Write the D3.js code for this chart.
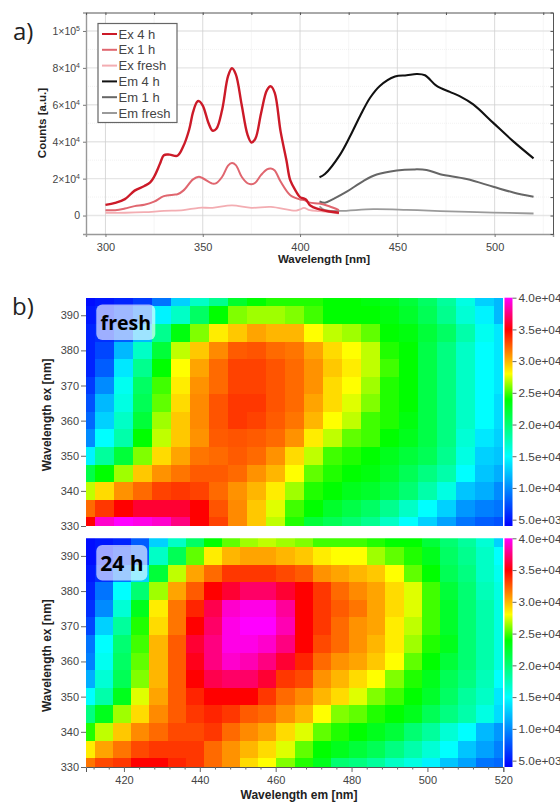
<!DOCTYPE html>
<html>
<head>
<meta charset="utf-8">
<script src="https://cdn.jsdelivr.net/npm/d3@7"></script>
<style>
  body { margin: 0; background: #fff; }
  svg { display: block; }
  text { font-family: "Liberation Sans", Arial, sans-serif; fill: #444; }
  .title { font-weight: bold; fill: #222; font-size: 11.5px; }
  .panel { font-family: "Open Sans", sans-serif; font-size: 24px; fill: #222; }
  .tag { font-family: "Open Sans", sans-serif; font-weight: bold; fill: #000; }
</style>
</head>
<body>
<svg id="chart" width="560" height="802"></svg>
<script>
// --- panel a, thousands of counts
const ex4hWl = [300,305,310,315,320,323,325,328,330,333,337,340,343,345,347,348,350,353,355,357,360,363,365,367,370,373,375,377,380,383,385,387,390,393,395,398,400,403,405,407,410,415,420];
const ex4h = [5.8,6.9,8.9,13.5,16,18,21,28,32.7,33,32.4,37.5,46.5,56,61.5,62,59.6,50,46,47,57.5,75.5,79.8,76.5,60,43.8,39.6,41.5,55.6,68,70,66.5,45.6,30,19,13,10,8.7,5.6,4.4,3.3,2.2,1.5];
const ex1hWl = [300,305,310,315,320,325,330,335,337,340,345,348,350,355,357,360,363,365,367,370,373,375,377,380,383,385,387,390,395,400,402,405,410,415,420];
const ex1h = [2.9,2.9,3.8,5.1,5.8,7.5,10.5,11.3,11.5,13.5,19.6,21,20.2,17.3,17.6,21,27,28.4,27.3,21,17.5,17,17.8,22,25,25.5,24.4,18.4,11,8.7,8.4,7,6.5,5,2.9];
const exFreshWl = [300,310,320,330,340,348,355,365,375,385,395,398,400,402,405,410,415,420];
const exFresh = [1.5,1.5,1.8,2.5,2.9,4.2,4.2,5.5,4.2,4.7,2.9,2.7,3.3,4.2,2.9,2.4,1.8,1.1];
const em4hWl = [410,412.8,420.5,425.7,430.8,436,441,448.8,454.8,460,464.2,470.2,477,482,489,499.3,509.6,520];
const em4h = [20.7,22.5,32.9,42.9,53.8,63.8,70.2,75.3,76,76.7,76,70.2,67,64.7,60.2,50.2,40.2,31];
const em1hWl = [410,412.8,417,424,432.5,439.4,449.7,458.2,465,472,485.6,499.3,509.6,520];
const em1h = [7.6,6.9,8.9,12.9,18.7,22.2,24.4,25,24.7,22.4,19.8,15.6,12.5,10.2];
const emFreshWl = [410,412.8,420.5,437.7,454.8,472,499.3,520];
const emFresh = [5,2.9,2.5,3.5,3.1,2.4,1.6,1.1];

const legendNames = ['Ex 4 h','Ex 1 h','Ex fresh','Em 4 h','Em 1 h','Em fresh'];
const legendColors = ['#cc1a28','#e0666f','#f3adb2','#111111','#666666','#9a9a9a'];
const countTicks = [0,20000,40000,60000,80000,100000];
const countMinor = [10000,30000,50000,70000,90000];
const wlTicks = [300,350,400,450,500];
const wlMinor = [325,375,425,475,525];

// --- panel b, thousands of counts
const exRows = [395,390,385,380,375,370,365,360,355,350,345,340,335,330];
const emFreshCols = [410,415,420,425,430,435,440,445,450,455,460,465,470,475,480,485,490,495,500,505,510,515,520];
const em24hCols = [410,414.8,419.6,424.3,429.1,433.9,438.7,443.5,448.3,453,457.8,462.6,467.4,472.2,477,481.7,486.5,491.3,496.1,500.9,505.7,510.4,515.2,520];

const freshCells = [
  [4.5,5,5.5,6.5,9,13,17,19,22.5,24,24.5,24.5,24.5,24,24,23.5,23,22,20.5,18.5,16,13,12],
  [5,5.5,7,9,14.5,17,20.5,24,26,26.5,26.5,26,25,24,24,24,23.5,22.5,21,19,16.5,14.5,12],
  [5.5,6,8,12,19,23.5,26,28.5,29.5,30.5,30,30,28,27,26.5,25.5,24,23.5,22,20.5,18,15.5,14],
  [5.5,7,12,17,22,27,29.5,31.2,32.5,32.7,32.1,31.8,30.5,29,28,27,24.5,24,21.5,19.5,17,15,14],
  [5.5,8,14,19,24,28,30.5,32.1,33.2,33.2,32.7,32.1,31,29.5,28.5,27,25,24,21.5,19.5,17,15,14],
  [6.5,10,15.5,20.5,25,28.5,31,32.1,33.2,33.2,32.7,32.1,31,29,28,26.5,24.5,24,21.5,19.5,17,15,14],
  [7.5,12,16,21,25.5,29,31.2,32.7,33.5,33.5,32.7,32.1,30.5,29,27.5,26,24.5,24,21.5,19.5,17,15,13.5],
  [8.5,13,17,22,26.5,29.5,31.2,32.7,33.5,33.2,32.5,31.8,30,28,27,25,24.5,23.5,21.5,19.5,17,15,13.5],
  [10,15,18,24,27,29.5,31,32.5,32.7,32.5,32.1,31,28.5,27,25.5,25,24,23,21.5,19.5,16.5,14,13],
  [14.5,18.5,22,26,29,30.5,31.8,32.1,32.5,32.1,31,29,27,25,24.5,24,23,22,21,19,16,13,12.5],
  [21.5,24,26.5,29.5,31,31.8,32.5,32.5,32.1,31,30,28,25.5,24.5,24,23.5,22.5,21,19.5,18,15,12.5,11.5],
  [27,29,31,32.1,33.2,33.5,33.2,32.1,31,30,28.5,26.5,24.5,24,23,22.5,21.5,20,18,16,12.5,11.5,10],
  [32.1,33.5,35,36,36,36,35,32.7,31.2,29.5,27.5,25,24,22.5,21.5,20.5,19,17,15,13,10.5,9.5,9],
  [35,39,40,39.5,39,37.5,35,33.2,31.2,29.5,27,24.5,22,21,20,19,17,15,13,11,9,8,7.5]
];
const day1Cells = [
  [4.5,5,5.5,8,13,17,20.5,24,25.5,26.5,27,26.5,26,25,25,25,24.5,24,24,22,20,18.5,16.5,13],
  [4.5,5,6.5,8,17,21,25.5,28.5,30,30.5,30.5,30,29.5,28.5,28,28,26.5,25.5,24.5,23,20.5,19,17,15],
  [5,6,9,13,22,27,30.5,32.1,33.5,33.5,33.5,33,32.5,31,30.5,30,29.5,28,25.5,24,21,19.5,17,15.5],
  [5.5,9,15,20,26.5,30.5,32.5,35,36,37,37,36,35,33.5,32.1,31.2,30.5,29,27.5,25,22,20,17.5,16],
  [6,10,16.5,23,28.5,31.8,34,36.5,39,39.5,39.5,38,35,33.5,32.5,31.8,30.5,29,27.5,25,22.5,20,18,16],
  [7,13,18.5,24.5,29,31.8,35,37,39.5,40,40,38.5,35,33.5,32.1,31,30.5,28.5,27,25,22.5,20,18,16],
  [9,15,20,25,30,32.5,36,37.5,39.5,39.5,39,37.5,35,33,32.1,31,30,28.5,26.5,24.5,23,20,18,16],
  [9.5,15.5,20.5,25.5,30,32.5,35.5,37.5,39,38.5,37.5,36,34,32.1,31,30.5,29.5,28,25.5,24,22,20,18,16],
  [11.5,16.5,21,26,30,32.5,35,36.5,37,37,36,33.5,33,31,30,29,28,26,24.5,23,21,19.5,17.5,15],
  [15,18,23,27.5,30.5,32.5,34,35,35,35,33.5,32.1,31.2,30,29,27.5,26,25,24,22.5,20.5,18.5,17,14],
  [19.5,23,26.5,29,31.2,32.5,33.5,34,33.5,32.5,32.1,31,30,28,26,25.5,24.5,24,23,21,19.5,18,16,13.5],
  [24.5,27,29.5,31.2,32.1,33,33,33.5,32.1,31.2,30.5,29,27.5,25.5,24.5,24,23,22,20,18.5,16.5,15,12,10.5],
  [28.5,30.5,31.8,33,33.5,33.5,33.5,32.1,31,30,29,27.5,25.5,24,23,22,21,19.5,18,16.5,15,12.5,11,9.5],
  [31.8,33,33.5,35,35,34,33.5,32.1,31,29,28,26,24.5,23,20,19.5,18.5,17,16,14.5,12.5,11,9,8.5]
];
const scaleTicks = [5000,10000,15000,20000,25000,30000,35000,40000];
const scaleLabels = ['5.0e+03','1.0e+04','1.5e+04','2.0e+04','2.5e+04','3.0e+04','3.5e+04','4.0e+04'];
const exTicks = [330,340,350,360,370,380,390];
const emTicks = [420,440,460,480,500,520];
const emMinor = [412,416,424,428,432,436,444,448,452,456,464,468,472,476,484,488,492,496,504,508,512,516];
const rampStops = [4,15,24,28,35,40];
const rampColors = ['#0000ff','#00ffff','#00ff00','#ffff00','#ff0000','#ff00ff'];

const svg = d3.select('#chart');
const cellColor = d3.scaleLinear().domain(rampStops).range(rampColors).clamp(true);

// the cells are soft in the picture, so a small blur on them
svg.append('defs').append('filter').attr('id','soft')
  .attr('color-interpolation-filters','sRGB')
  .append('feGaussianBlur').attr('stdDeviation',0.6);

// panel letters
svg.append('text').attr('class','panel').attr('x',13).attr('y',40).text('a)');
svg.append('text').attr('class','panel').attr('x',12).attr('y',315).text('b)');

drawSpectra();
drawMap(freshCells, emFreshCols, 297.7, 526, 'fresh', 59, 19.5, false);
drawMap(day1Cells, em24hCols, 538.3, 767, '24 h', 51, 21, true);

function drawSpectra() {
  const x = d3.scaleLinear().domain([290,530]).range([86,553]);
  const y = d3.scaleLinear().domain([-10000,110000]).range([234,12.5]);
  const g = svg.append('g');

  // grid
  g.selectAll('.minorH').data(countMinor).enter().append('line')
    .attr('x1',86).attr('x2',553).attr('y1',d=>y(d)).attr('y2',d=>y(d))
    .attr('stroke','#ececec').attr('stroke-width',0.7).attr('stroke-dasharray','1 1');
  g.selectAll('.majorH').data(countTicks).enter().append('line')
    .attr('x1',86).attr('x2',553).attr('y1',d=>y(d)).attr('y2',d=>y(d))
    .attr('stroke','#e6e6e6').attr('stroke-width',1.4);
  g.selectAll('.minorV').data(wlMinor).enter().append('line')
    .attr('x1',d=>x(d)).attr('x2',d=>x(d)).attr('y1',12.5).attr('y2',234)
    .attr('stroke','#e4e4e4').attr('stroke-width',0.7).attr('stroke-dasharray','1 1');
  g.selectAll('.majorV').data(wlTicks).enter().append('line')
    .attr('x1',d=>x(d)).attr('x2',d=>x(d)).attr('y1',12.5).attr('y2',234)
    .attr('stroke','#d0d0d0').attr('stroke-width',0.8);

  // axes
  const xAxis = g.append('g').attr('transform','translate(0,234)')
    .call(d3.axisBottom(x).tickValues(wlTicks).tickSize(3).tickPadding(6));
  const yAxis = g.append('g').attr('transform','translate(86,0)')
    .call(d3.axisLeft(y).tickValues(countTicks).tickSize(3).tickPadding(3).tickFormat(''));
  xAxis.selectAll('text').attr('font-size',11).attr('font-family','Liberation Sans').attr('fill','#444');
  yAxis.selectAll('.tick text').each(function(d) {
    const t = d3.select(this).attr('font-size',10.5).attr('font-family','Liberation Sans').attr('fill','#444');
    if (d === 0) { t.text('0'); return; }
    const exp = Math.floor(Math.log10(d));
    t.append('tspan').text(d / Math.pow(10,exp) + '×10');
    t.append('tspan').attr('font-size',7).attr('dy',-3.5).text(exp);
  });
  [xAxis,yAxis].forEach(a => {
    a.select('.domain').attr('stroke','#999').attr('stroke-width',1.4);
    a.selectAll('.tick line').attr('stroke','#777');
  });

  // inward ticks on top and right
  const topAxis = g.append('g').attr('transform','translate(0,12.5)')
    .call(d3.axisBottom(x).tickValues(wlTicks.concat(wlMinor)).tickSize(2.5).tickFormat(''));
  const rightAxis = g.append('g').attr('transform','translate(553,0)')
    .call(d3.axisLeft(y).tickValues(countTicks.concat(countMinor)).tickSize(2.5).tickFormat(''));
  [topAxis,rightAxis].forEach(a => {
    a.select('.domain').attr('stroke','#555').attr('stroke-width',1);
    a.selectAll('.tick line').attr('stroke','#555');
  });

  // curves, first drawn lies lowest
  const line = d3.line().x(d=>x(d[0])).y(d=>y(d[1]*1000)).curve(d3.curveCatmullRom.alpha(0.5));
  const series = [
    [emFreshWl, emFresh, legendColors[5], 1.8],
    [em1hWl, em1h, legendColors[4], 2],
    [em4hWl, em4h, legendColors[3], 2.1],
    [exFreshWl, exFresh, legendColors[2], 1.8],
    [ex1hWl, ex1h, legendColors[1], 2],
    [ex4hWl, ex4h, legendColors[0], 2.4]
  ];
  series.forEach(s => {
    g.append('path').attr('d',line(d3.zip(s[0],s[1])))
      .attr('fill','none').attr('stroke',s[2]).attr('stroke-width',s[3]);
  });

  // titles
  g.append('text').attr('class','title').attr('text-anchor','middle')
    .attr('transform','translate(46,123) rotate(-90)').text('Counts [a.u.]');
  g.append('text').attr('class','title').attr('text-anchor','middle')
    .attr('x',324).attr('y',263).text('Wavelength [nm]');

  // legend
  const lg = g.append('g');
  lg.append('rect').attr('x',98).attr('y',23.5).attr('width',79).attr('height',99)
    .attr('fill','#fff').attr('stroke','#666').attr('stroke-width',1.2);
  const rowY = d3.scaleLinear().domain([0,5]).range([34,113]);
  legendNames.forEach((name,i) => {
    lg.append('line').attr('x1',102).attr('x2',117).attr('y1',rowY(i)).attr('y2',rowY(i))
      .attr('stroke',legendColors[i]).attr('stroke-width',2);
    lg.append('text').attr('x',118.5).attr('y',rowY(i)+4.5).attr('font-size',13).attr('fill','#333').text(name);
  });
}

function drawMap(cells, cols, top, bottom, tag, tagW, tagSize, withXAxis) {
  const x = d3.scaleLinear().domain([410,520]).range([86,503.3]);
  const y = d3.scaleLinear().domain([395,330]).range([top,bottom]);
  const g = svg.append('g');

  const edges = (vals, s) => vals.map((v,i) => [
    i ? (s(vals[i-1]) + s(v)) / 2 : s(v),
    i < vals.length-1 ? (s(v) + s(vals[i+1])) / 2 : s(v)
  ]);
  const xEdges = edges(cols, x);
  const yEdges = edges(exRows, y);

  const clipId = 'map' + Math.round(top);
  svg.select('defs').append('clipPath').attr('id',clipId).append('rect')
    .attr('x',86).attr('y',top).attr('width',417.3).attr('height',bottom-top);
  const cellLayer = g.append('g').attr('clip-path',`url(#${clipId})`)
    .append('g').attr('filter','url(#soft)');
  cells.forEach((row,r) => {
    cellLayer.selectAll(null).data(row).enter().append('rect')
      .attr('x',(d,c)=>xEdges[c][0])
      .attr('width',(d,c)=>xEdges[c][1]-xEdges[c][0])
      .attr('y',yEdges[r][0])
      .attr('height',yEdges[r][1]-yEdges[r][0])
      .attr('fill',d=>cellColor(d))
      .attr('shape-rendering','crispEdges');
  });

  // y axis
  const yAxis = g.append('g').attr('transform','translate(86,0)')
    .call(d3.axisLeft(y).tickValues(exTicks).tickSize(5).tickPadding(2));
  yAxis.select('.domain').remove();
  yAxis.selectAll('.tick line').attr('stroke','#666');
  yAxis.selectAll('text').attr('font-size',11).attr('font-family','Liberation Sans').attr('fill','#444');
  g.append('text').attr('class','title').attr('text-anchor','middle').style('font-size','12px')
    .attr('transform',`translate(51,${(top+bottom)/2+3}) rotate(-90)`).text('Wavelength ex [nm]');

  // x axis only under the last map
  if (withXAxis) {
    const xAxis = g.append('g').attr('transform',`translate(0,${bottom})`)
      .call(d3.axisBottom(x).tickValues(emTicks).tickSize(5).tickPadding(4));
    xAxis.select('.domain').attr('stroke','#555');
    xAxis.selectAll('.tick line').attr('stroke','#666');
    xAxis.selectAll('text').attr('font-size',11).attr('font-family','Liberation Sans').attr('fill','#444');
    const minor = g.append('g').attr('transform',`translate(0,${bottom})`)
      .call(d3.axisBottom(x).tickValues(emMinor).tickSize(2.5).tickFormat(''));
    minor.select('.domain').remove();
    minor.selectAll('.tick line').attr('stroke','#666');
    g.append('text').attr('class','title').attr('text-anchor','middle').style('font-size','12px')
      .attr('x',299).attr('y',799).text('Wavelength em [nm]');
  }

  // colour bar
  const id = 'ramp' + Math.round(top);
  const grad = svg.select('defs').append('linearGradient').attr('id',id)
    .attr('x1',0).attr('x2',0).attr('y1',1).attr('y2',0);
  const barY = d3.scaleLinear().domain([4000,40000]).range([bottom,top]);
  rampStops.forEach((s,i) => {
    grad.append('stop').attr('offset',(s-4)/36).attr('stop-color',rampColors[i]);
  });
  g.append('rect').attr('x',504.5).attr('y',top).attr('width',8).attr('height',bottom-top)
    .attr('fill',`url(#${id})`);
  const barAxis = g.append('g').attr('transform','translate(512.5,0)')
    .call(d3.axisRight(barY).tickValues(scaleTicks).tickSize(4).tickPadding(2)
      .tickFormat((d,i)=>scaleLabels[i]));
  barAxis.select('.domain').remove();
  barAxis.selectAll('.tick line').attr('stroke','#666');
  barAxis.selectAll('text').attr('font-size',11.8).attr('font-family','Liberation Sans').attr('fill','#444');

  // sample tag
  g.append('rect').attr('x',96.3).attr('y',top+6.7).attr('width',tagW).attr('height',35.5)
    .attr('rx',6).attr('fill','#fff').attr('fill-opacity',0.62);
  g.append('text').attr('class','tag').attr('x',96.3+tagW/2).attr('y',top+32.5)
    .attr('text-anchor','middle').attr('font-size',tagSize).text(tag);
}
</script>
</body>
</html>
